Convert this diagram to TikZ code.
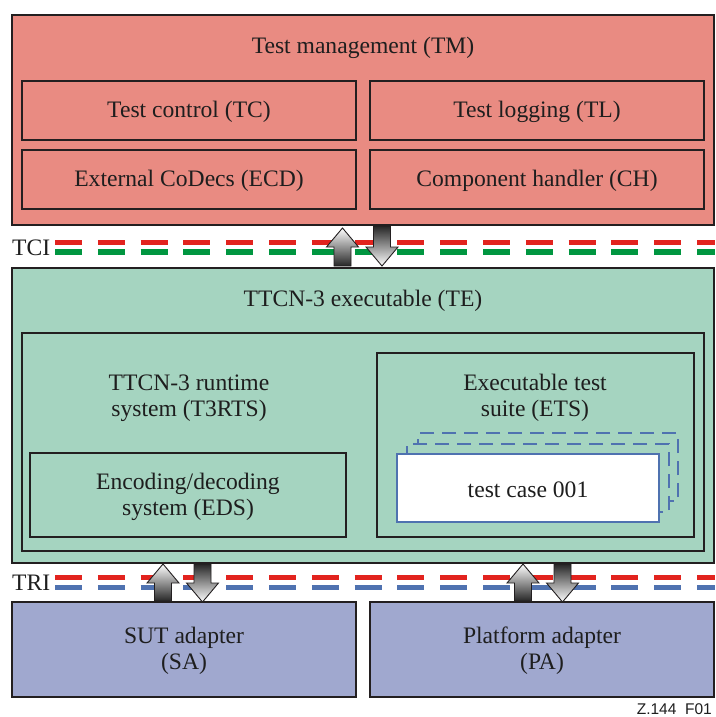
\documentclass[tikz,border=0pt]{standalone}
\usepackage{fontspec}
\newfontfamily\serifA{LiberationSerif-Regular.ttf}
\newfontfamily\zfont{Liberation Sans}
\usetikzlibrary{fit}
\definecolor{tmfill}{RGB}{233,139,130}
\definecolor{tefill}{RGB}{165,212,192}
\definecolor{adfill}{RGB}{160,168,207}
\definecolor{bordc}{RGB}{35,31,32}
\definecolor{dred}{RGB}{226,35,30}
\definecolor{dgreen}{RGB}{0,150,64}
\definecolor{dblue}{RGB}{79,114,176}
\definecolor{textc}{RGB}{30,30,30}
\newcommand\uparrblk[3]{% cx, tip y, bottom y
  \draw[blkarrow, top color=white, bottom color=black!85]
    (#1-8.5,#3) -- (#1-8.5,#2+19) -- (#1-16,#2+19) -- (#1,#2) -- (#1+16,#2+19)
    -- (#1+8.5,#2+19) -- (#1+8.5,#3) -- cycle;}
\newcommand\downarrblk[3]{% cx, top y, tip y
  \draw[blkarrow, top color=black!85, bottom color=white]
    (#1-8.5,#2) -- (#1-8.5,#3-19) -- (#1-16,#3-19) -- (#1,#3) -- (#1+16,#3-19)
    -- (#1+8.5,#3-19) -- (#1+8.5,#2) -- cycle;}
\begin{document}
\begin{tikzpicture}[x=1pt,y=-1pt,
  obox/.style={draw=bordc, line width=2.4pt, inner sep=0pt},
  ibox/.style={draw=bordc, line width=2pt, inner sep=0pt},
  lbl/.style={font=\serifA\fontsize{23.6}{26}\selectfont, align=center, text=textc, inner sep=0pt},
  ifdash/.style={line width=5.5pt, dash pattern=on 27pt off 15.8pt},
  blkarrow/.style={draw=bordc, line width=0.9pt, line join=miter},
  tcdash/.style={draw=dblue, line width=2pt, dash pattern=on 14pt off 8pt}]
\useasboundingbox (0,0) rectangle (715,717);
% ---------- Test management ----------
\node[obox, fill=tmfill, fit={(12,15) (714,225)}] (tm) {};
\node[lbl] (tmlbl) at (363,48) {Test management (TM)};
\node[ibox, fit={(22,81) (356,140)}] (tc) {};
\node[lbl] at ([yshift=-1.5pt]tc.center) (tclbl) {Test control (TC)};
\node[ibox, fit={(370,81) (704,140)}] (tl) {};
\node[lbl] at ([yshift=-1.5pt]tl.center) (tllbl) {Test logging (TL)};
\node[ibox, fit={(22,150) (356,209)}] (ecd) {};
\node[lbl] at ([yshift=-1.5pt]ecd.center) (ecdlbl) {External CoDecs (ECD)};
\node[ibox, fit={(370,150) (704,209)}] (ch) {};
\node[lbl] at ([yshift=-1.5pt]ch.center) (chlbl) {Component handler (CH)};
% ---------- TCI ----------
\node[lbl, anchor=west] (tci) at (12,247.5) {TCI};
\coordinate (tciR1) at (55,242.5);  \coordinate (tciR2) at (715,242.5);
\coordinate (tciG1) at (55,252);    \coordinate (tciG2) at (715,252);
\draw[ifdash, dred] (tciR1) -- (tciR2);
\draw[ifdash, dgreen] (tciG1) -- (tciG2);
% ---------- TTCN-3 executable ----------
\node[obox, fill=tefill, fit={(12,268) (714,563)}] (te) {};
\node[lbl] (telbl) at (363,301) {TTCN-3 executable (TE)};
\node[ibox, fit={(22,333) (704,551)}] (t3rts) {};
\node[lbl] (t3rtslbl) at (189,398) {TTCN-3 runtime\\system (T3RTS)};
\node[ibox, fit={(30,453) (346,537)}] (eds) {};
\node[lbl] (edslbl) at ([yshift=-1.5pt]eds.center) {Encoding/decoding\\system (EDS)};
\node[ibox, fit={(377,353) (694,537)}] (ets) {};
\node[lbl] (etslbl) at (535,398) {Executable test\\suite (ETS)};
\node[tcdash, fit={(418,433) (678,501)}, inner sep=0pt] (tc3) {};
\node[tcdash, fill=tefill, fit={(407,444) (669,512)}, inner sep=0pt] (tc2) {};
\node[draw=dblue, line width=2pt, fill=white, inner sep=0pt, fit={(397,454) (659,522)}] (tc1) {};
\node[lbl] (tc1lbl) at ([yshift=-1.5pt]tc1.center) {test case 001};
% ---------- TRI ----------
\node[lbl, anchor=west] (tri) at (12,582.5) {TRI};
\coordinate (triR1) at (55,577.5);  \coordinate (triR2) at (715,577.5);
\coordinate (triB1) at (55,587.5);  \coordinate (triB2) at (715,587.5);
\draw[ifdash, dred] (triR1) -- (triR2);
\draw[ifdash, dblue] (triB1) -- (triB2);
% ---------- adapters ----------
\node[obox, fill=adfill, fit={(12,602) (356,697)}] (sa) {};
\node[lbl] (salbl) at ([yshift=-1.5pt]sa.center) {SUT adapter\\(SA)};
\node[obox, fill=adfill, fit={(370,602) (714,697)}] (pa) {};
\node[lbl] (palbl) at ([yshift=-1.5pt]pa.center) {Platform adapter\\(PA)};
% ---------- block arrows ----------
\uparrblk{342.5}{228}{266}
\downarrblk{382}{226}{266}
\uparrblk{163}{564}{601}
\downarrblk{202.5}{564}{602}
\uparrblk{523}{564}{601}
\downarrblk{562.5}{564}{602}
% ---------- figure id ----------
\node[anchor=base east, inner sep=0pt, font=\zfont\fontsize{15.5}{18}\selectfont, text=textc] (figid) at (712,714) {Z.144\ \ F01};
\end{tikzpicture}
\end{document}
